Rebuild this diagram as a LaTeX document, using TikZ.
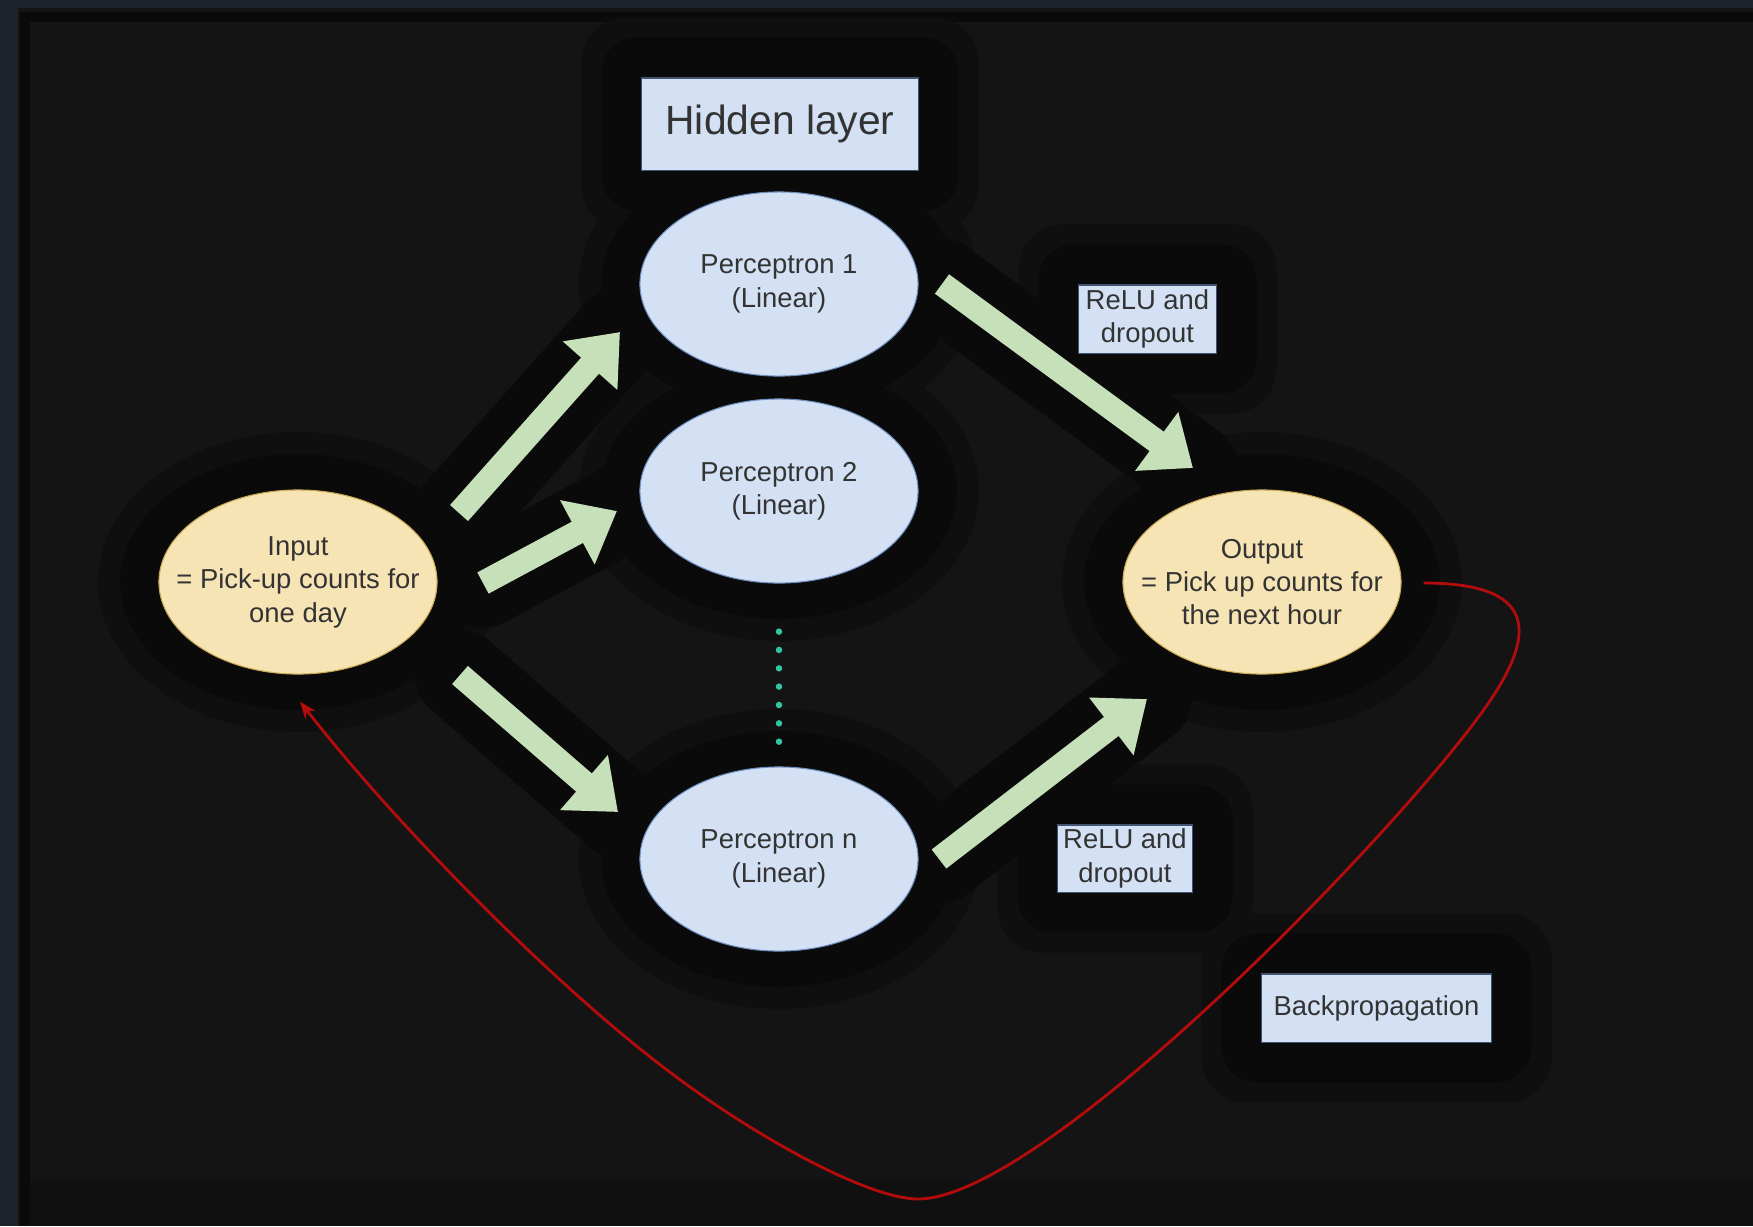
\documentclass[tikz,border=0pt]{standalone}
\usepackage{fontspec}
\setmainfont{Liberation Sans}
\usetikzlibrary{arrows.meta,shapes.geometric,backgrounds}
\definecolor{frame}{HTML}{1D232B}
\definecolor{canvas}{HTML}{141414}
\definecolor{lowband}{HTML}{101010}
\definecolor{halo}{HTML}{0A0A0A}
\definecolor{halosoft}{HTML}{0F0F0F}
\definecolor{cellblue}{HTML}{D4E1F5}
\definecolor{edgeblue}{HTML}{6C8EBF}
\definecolor{cellyellow}{HTML}{F6E4B5}
\definecolor{edgeyellow}{HTML}{C9A852}
\definecolor{fatgreen}{HTML}{C6E0BA}
\definecolor{backred}{HTML}{B40C0C}
\definecolor{dotteal}{HTML}{33C4A2}
\definecolor{txt}{HTML}{333333}

\begin{document}
\begin{tikzpicture}[x=0.01cm,y=-0.01cm,
		every node/.style={text=txt,font=\fontsize{7.8}{9.5}\selectfont,align=center,inner sep=0pt},
		perc/.style={ellipse,fill=cellblue,draw=edgeblue,line width=0.3pt,inner sep=-0.4cm,minimum width=2.78cm,minimum height=1.84cm},
		io/.style={ellipse,fill=cellyellow,draw=edgeyellow,line width=0.3pt,inner sep=-0.4cm,minimum width=2.78cm,minimum height=1.84cm},
		tag/.style={rectangle,fill=cellblue,draw=edgeblue!60!black,line width=0.3pt},
		fat/.style={fatgreen,line width=0.24cm,-{Triangle[width=0.7cm,length=0.45cm]}},
		fathalo/.style={halo,line width=0.9cm,line cap=round},
		backprop/.style={backred,line width=0.8pt,-{Stealth[length=0.17cm,width=0.13cm]}}]
			\useasboundingbox (0,0) rectangle (1753,1226);

			\node[tag,minimum width=2.76cm,minimum height=0.92cm,font=\fontsize{11.6}{14}\selectfont] (hid) at (780,124) {Hidden layer};
			\node[perc] (p1) at (779,284) {Perceptron 1\\(Linear)};
			\node[perc] (p2) at (779,491) {Perceptron 2\\(Linear)};
			\node[perc] (pn) at (779,859) {Perceptron n\\(Linear)};
			\node[io] (in) at (298,582) {Input\\= Pick-up counts for\\one day};
			\node[io] (out) at (1262,582) {Output\\= Pick up counts for\\the next hour};
			\node[tag,minimum width=1.37cm,minimum height=0.68cm] (relu1) at (1147.5,319) {ReLU and\\dropout};
			\node[tag,minimum width=1.34cm,minimum height=0.67cm] (relu2) at (1125,858.5) {ReLU and\\dropout};
			\node[tag,minimum width=2.29cm,minimum height=0.68cm] (bp) at (1376.5,1008) {Backpropagation};

			\draw[fat] ([shift={(161,-69)}]in.center) -- ([shift={(-159,48)}]p1.center);
			\draw[fat] ([shift={(185,1)}]in.center) -- ([shift={(-162,20)}]p2.center);
			\draw[fat] ([shift={(162,93)}]in.center) -- ([shift={(-161,-47)}]pn.center);
			\draw[fat] ([shift={(163,0)}]p1.center) -- ([shift={(-69,-114)}]out.center);
			\draw[fat] ([shift={(160,0)}]pn.center) -- ([shift={(-115,117)}]out.center);

			\draw[dotteal,line width=0.065cm,line cap=round,dash pattern=on 0pt off 0.1833cm,
				shorten <=0.48cm,shorten >=0.22cm] (p2.south) -- (pn.north);

			\draw[backprop] ([shift={(22,1)}]out.east) .. controls (1545,583) and (1535,640) .. (1480,715)
				.. controls (1380,851) and (1040,1199) .. (918,1199)
				.. controls (870,1199) and (760,1140) .. (671,1073)
				.. controls (560,990) and (400,830) .. ([shift={(2,27)}]in.south);

			\begin{scope}[on background layer]
				\fill[frame] (0,0) rectangle (1753,1226);
				\fill[canvas] (18,8) rectangle (1753,1226);
				\fill[lowband] (20,1180) rectangle (1753,1226);
				\draw[halo,line width=0.1cm] (25,1226) -- (25,17) -- (1753,17);
				\foreach \n in {p1,p2,pn,in,out}
					\fill[halosoft] (\n.center) ellipse [x radius=200, y radius=150];
				\foreach \n in {hid,relu1,relu2,bp}
					\fill[halosoft,rounded corners=0.45cm] ([shift={(-60,-60)}]\n.north west) rectangle ([shift={(60,60)}]\n.south east);
				\foreach \n in {p1,p2,pn,in,out}
					\fill[halo] (\n.center) ellipse [x radius=178, y radius=128];
				\foreach \n in {hid,relu1,relu2,bp}
					\fill[halo,rounded corners=0.35cm] ([shift={(-40,-40)}]\n.north west) rectangle ([shift={(40,40)}]\n.south east);
				\draw[fathalo] ([shift={(161,-69)}]in.center) -- ([shift={(-159,48)}]p1.center);
				\draw[fathalo] ([shift={(185,1)}]in.center) -- ([shift={(-162,20)}]p2.center);
				\draw[fathalo] ([shift={(162,93)}]in.center) -- ([shift={(-161,-47)}]pn.center);
				\draw[fathalo] ([shift={(163,0)}]p1.center) -- ([shift={(-69,-114)}]out.center);
				\draw[fathalo] ([shift={(160,0)}]pn.center) -- ([shift={(-115,117)}]out.center);
			\end{scope}
		\end{tikzpicture}
\end{document}
